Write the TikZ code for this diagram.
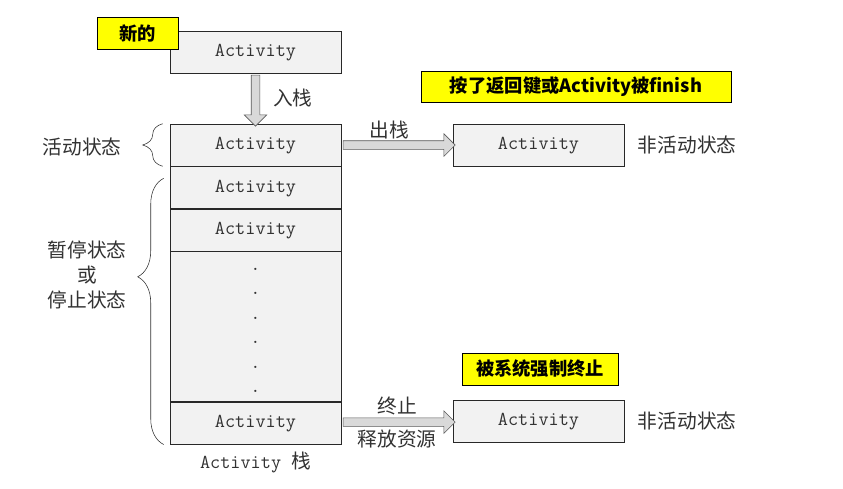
\documentclass[tikz,border=0pt]{standalone}
\usepackage{fontspec}
\newfontfamily\cjk{Noto Sans CJK SC}
\usetikzlibrary{positioning,shapes.arrows,decorations.pathreplacing,calc}
\definecolor{boxfill}{RGB}{242,242,242}
\definecolor{boxbdr}{RGB}{40,40,40}
\definecolor{arrfill}{RGB}{217,217,217}
\definecolor{arrbdr}{RGB}{90,90,90}
\definecolor{tagyel}{RGB}{255,255,0}
\definecolor{txtgray}{RGB}{50,50,50}

\begin{document}
\begin{tikzpicture}
\tikzset{
  AB/.style={draw=boxbdr,fill=boxfill,rectangle,minimum width=4.275cm,minimum height=1.05cm,inner sep=0pt,text height=1.6ex,text depth=0.1ex,font=\fontsize{14}{16}\selectfont\ttfamily\color{txtgray}},
  YT/.style={draw=black,fill=tagyel,rectangle,minimum height=0.8cm,inner sep=2pt,font=\fontsize{13}{15}\selectfont\cjk\bfseries},
  SA/.style={single arrow,draw=arrbdr,fill=arrfill,minimum width=0.55cm,single arrow head extend=0.175cm,inner xsep=0pt,inner ysep=0.1cm},
  lb/.style={font=\fontsize{14}{16}\selectfont\cjk\color{txtgray},inner sep=1pt},
  dt/.style={font=\fontsize{14}{16}\selectfont\ttfamily\color{txtgray},inner sep=0pt},
  BR/.style={decorate,draw=txtgray,thin},
}
\useasboundingbox (0,0) rectangle (21.075,12.2);

% new activity
\node[AB](top) at (6.3875,10.9){Activity};
\node[YT,minimum width=2.025cm](newtag) at (3.4375,11.375){新的};

% the stack
\node[AB](s1) at (6.3875,8.575){Activity};
\node[AB,below=0pt of s1](s2){Activity};
\node[AB,below=0pt of s2](s3){Activity};
\node[AB,below=0pt of s3,minimum height=3.75cm](dots){};
\node[AB,below=0pt of dots](s4){Activity};
\foreach \i in {0,...,5}
  \node[dt](d\i) at ($(dots.north)+(0,-0.45-0.61*\i)$){.};
\node[lb,below=0.15cm of s4](stk){{\ttfamily Activity\ }栈};

% leaving the stack
\node[AB](pop) at (13.4625,8.575){Activity};
\node[lb,right=0.3cm of pop](pops){非活动状态};
\node[YT,minimum width=7.75cm,minimum height=0.775cm](fintag) at (14.4,10.0375){按了返回键或Activity被finish};

\node[AB](kill) at (13.4625,1.675){Activity};
\node[lb,right=0.3cm of kill](kills){非活动状态};
\node[YT,minimum width=3.9cm](killtag) at (13.5,2.975){被系统强制终止};

% block arrows
\path (top.south) -- node[SA,rotate=-90,minimum height=1.275cm](push){} node[lb,right=0.4cm]{入栈} (s1.north);
\path (s1.east) -- node[SA,minimum height=2.8cm](popa){} node[lb,above=3pt,xshift=-0.2cm]{出栈} (pop.west);
\path (s4.east) -- node[SA,minimum height=2.8cm](killa){} node[lb,above=4pt]{终止} node[lb,below=4pt]{释放资源} (kill.west);

% braces
\draw[BR,decoration={brace,amplitude=0.5cm}]
  ([xshift=-0.175cm]s1.south west) -- ([xshift=-0.175cm]s1.north west);
\node[lb](act) at (2.05,8.525){活动状态};
\draw[BR,decoration={brace,amplitude=0.65cm,aspect=0.63}]
  ([xshift=-0.15cm]s4.south west) -- ([shift={(-0.15cm,-0.3cm)}]s2.north west);
\node[lb,align=center,font=\fontsize{14}{17.8}\selectfont\cjk\color{txtgray}](pause) at (2.175,5.325){暂停状态\\或\\停止状态};

\end{tikzpicture}
\end{document}
